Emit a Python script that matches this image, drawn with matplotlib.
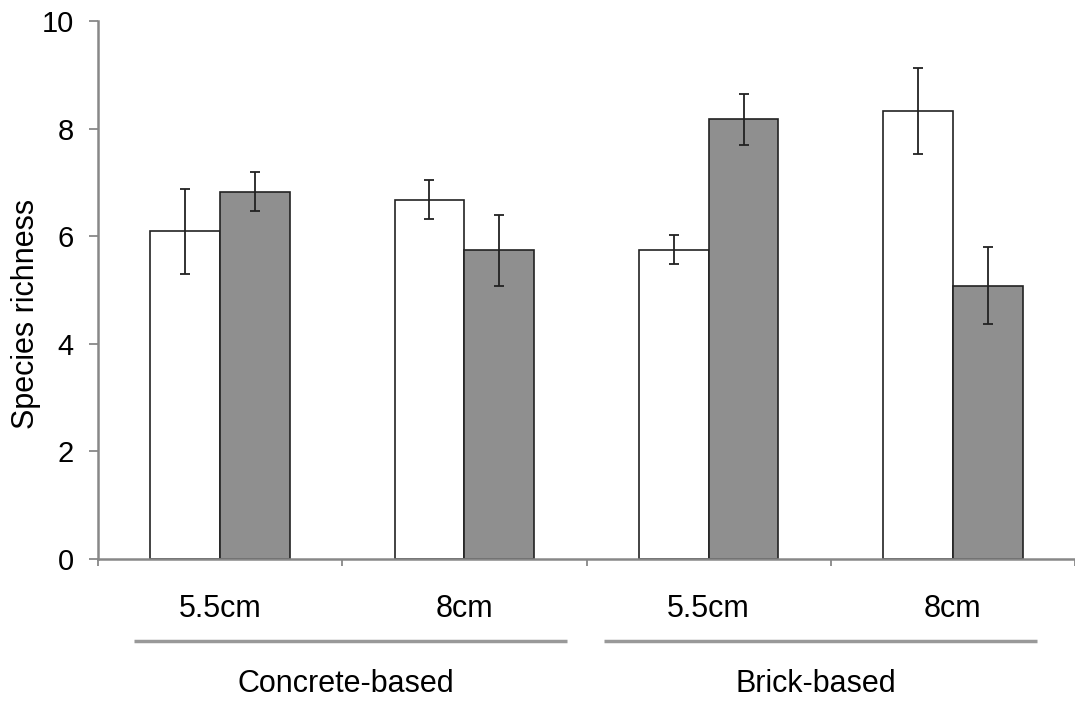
import numpy as np
import matplotlib
matplotlib.use("Agg")
import matplotlib.pyplot as plt
import matplotlib.transforms as mtransforms

# Data
sizeLabels = ["5.5cm", "8cm", "5.5cm", "8cm"]
groupLabels = ["Concrete-based", "Brick-based"]
whiteMeans = [6.09, 6.68, 5.75, 8.33]
whiteErr = [0.79, 0.36, 0.27, 0.80]
grayMeans = [6.83, 5.74, 8.17, 5.08]
grayErr = [0.37, 0.66, 0.48, 0.72]

plt.rcParams['font.family'] = ['Liberation Sans', 'DejaVu Sans']

fig = plt.figure(figsize=(10.75, 7.04), dpi=100)
ax = fig.add_axes([98/1075, 1-559/704, 1-98/1075, 538/704])

# Bars
x = np.arange(len(sizeLabels)) + 0.5
width = 0.286
errStyle = dict(ecolor='#222222', elinewidth=1.3, capsize=3.5, capthick=1.3)
ax.bar(x-width/2, whiteMeans, width, yerr=whiteErr, color='white',
	edgecolor='#222222', linewidth=1.2, error_kw=errStyle, zorder=2)
ax.bar(x+width/2, grayMeans, width, yerr=grayErr, color='#8f8f8f',
	edgecolor='#222222', linewidth=1.2, error_kw=errStyle, zorder=2)

# Axes limits and spines
ax.set_xlim(0, 4)
ax.set_ylim(0, 10)
ax.spines['top'].set_visible(False)
ax.spines['right'].set_visible(False)
for side in ['left', 'bottom']:
	ax.spines[side].set_color('#888888')
	ax.spines[side].set_linewidth(1.8)

# Ticks
ax.set_yticks([0, 2, 4, 6, 8, 10])
ax.tick_params(axis='y', direction='out', length=6.5, width=1.3, color='#888888',
	labelsize=21, pad=11)
ax.set_xticks([0, 1, 2, 3, 4])
ax.set_xticklabels([])
ax.tick_params(axis='x', which='major', direction='out', length=5, width=1.3, color='#888888')
ax.set_xticks(x, minor=True)
ax.set_xticklabels(sizeLabels, minor=True)
ax.tick_params(axis='x', which='minor', length=0, labelsize=22, pad=25)

# Y label
ax.set_ylabel('Species richness', fontsize=22)
ax.yaxis.set_label_coords(-0.058, 0.455)

# Group lines and labels below the axis
trans = mtransforms.blended_transform_factory(ax.transData, ax.transAxes)
groupSpans = [(0.147, 1.922), (2.07, 3.845)]
for (x0, x1), label in zip(groupSpans, groupLabels):
	ax.plot([x0, x1], [-0.152, -0.152], color='#999999', lw=2.5, transform=trans,
		clip_on=False, solid_capstyle='butt')
	ax.text((x0+x1)/2-0.02, -0.232, label, transform=trans, ha='center', va='center',
		fontsize=22)

plt.savefig('out.png', dpi=100)
